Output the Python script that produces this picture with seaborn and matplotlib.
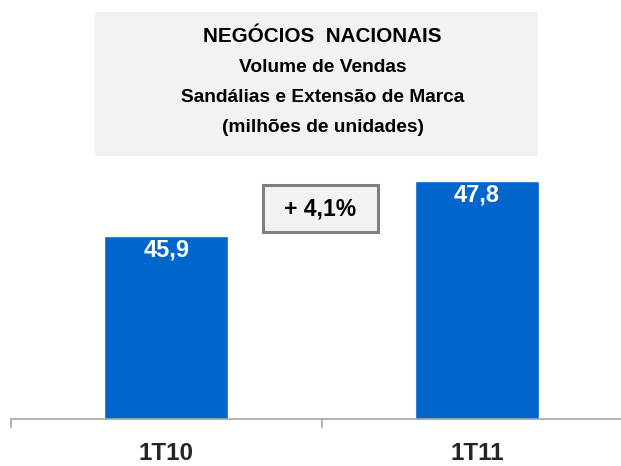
import pandas as pd
import matplotlib.pyplot as plt
import seaborn as sns
from matplotlib.patches import Rectangle

# Chart data
periods = ["1T10", "1T11"]
volumes = [45.9, 47.8]
title_lines = ["NEGÓCIOS  NACIONAIS", "Volume de Vendas",
               "Sandálias e Extensão de Marca", "(milhões de unidades)"]
growth_label = "+ 4,1%"

df = pd.DataFrame({"periodo": periods, "volume": volumes})

sns.set_style("white")
plt.rcParams["font.family"] = ["Liberation Sans", "DejaVu Sans"]
plt.rcParams["font.weight"] = "bold"

W, H = 621, 466
fig = plt.figure(figsize=(W / 100, H / 100), dpi=100)

# axes placed so the category bands line up with the reference
ax = fig.add_axes([11 / W, 47 / H, 621 / W, 254 / H])
sns.barplot(data=df, x="periodo", y="volume", color="#0066CC", saturation=1,
            width=0.4, ax=ax)
ax.set_xlim(-0.5, 1.5)
ax.set_ylim(39.58, 48.35)

# bar value labels, inside the top of each bar
for i, v in enumerate(volumes):
    ax.annotate(f"{v:.1f}".replace(".", ","), (i, v), xytext=(0, -10),
                textcoords="offset points", ha="center", va="center",
                color="white", fontsize=17, fontweight="bold")

# axis styling
for side in ["left", "right", "top"]:
    ax.spines[side].set_visible(False)
ax.spines["bottom"].set_color("#A6A6A6")
ax.spines["bottom"].set_linewidth(1.2)
ax.set_yticks([])
ax.set_xlabel("")
ax.set_ylabel("")
ax.set_xticks([-0.5, 0.5, 1.5], minor=True)
ax.tick_params(axis="x", which="minor", bottom=True, direction="out",
               length=6.5, width=1.2, color="#A6A6A6")
ax.tick_params(axis="x", which="major", length=0, pad=16.5, labelsize=17.5)
for lab in ax.get_xticklabels():
    lab.set_fontweight("bold")

# title box
fig.patches.append(Rectangle((95 / W, 1 - 156 / H), 443 / W, 144 / H,
                             transform=fig.transFigure, facecolor="#F2F2F2",
                             edgecolor="none", zorder=0))
title_y = [36, 67, 97, 128]
title_size = [14.9, 13.8, 13.8, 13.8]
for txt, y, s in zip(title_lines, title_y, title_size):
    fig.text(322.5 / W, 1 - y / H, txt, ha="center", va="center",
             fontsize=s, fontweight="bold", color="black")

# growth box
fig.patches.append(Rectangle((263 / W, 1 - 232 / H), 115 / W, 47 / H,
                             transform=fig.transFigure, facecolor="#F2F2F2",
                             edgecolor="#808080", linewidth=2.2, zorder=3))
fig.text(320 / W, 1 - 209 / H, growth_label, ha="center", va="center",
         fontsize=16.5, fontweight="bold", color="black", zorder=4)

fig.savefig("out.png", dpi=100)
